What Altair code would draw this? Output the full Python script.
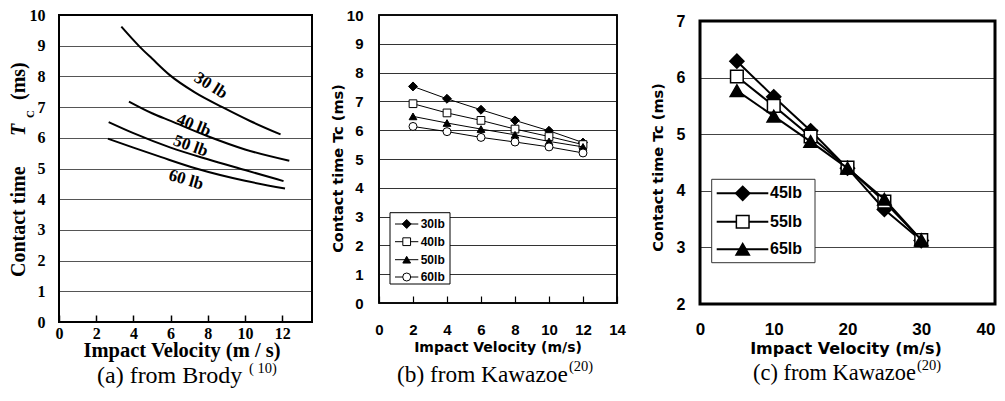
import altair as alt
import pandas as pd

# ---------------- data ----------------
# (a) Brody: contact time curves
A_30_V = [3.35, 4.33, 5.0, 5.94, 7.3, 8.81, 10.3, 11.91]
A_30_T = [9.62, 8.97, 8.58, 8.05, 7.48, 6.99, 6.54, 6.11]
A_40_V = [3.76, 5.0, 6.0, 8.0, 10.0, 12.38]
A_40_T = [7.18, 6.8, 6.55, 6.05, 5.62, 5.25]
A_50_V = [2.67, 4.0, 6.0, 8.0, 10.0, 12.07]
A_50_T = [6.51, 6.15, 5.68, 5.3, 4.95, 4.59]
A_60_V = [2.63, 4.0, 5.5, 7.37, 10.0, 12.15]
A_60_T = [5.97, 5.68, 5.37, 5.0, 4.6, 4.35]
A_LABELS = ["30 lb", "40 lb", "50 lb", "60 lb"]
A_LABEL_V = [8.16, 7.24, 7.08, 6.83]
A_LABEL_T = [7.70, 6.41, 5.73, 4.63]
A_XDOM = [0, 13.6]
A_YDOM = [0, 10]
A_XTICKS = [0, 2, 4, 6, 8, 10, 12]
A_YTICKS = list(range(0, 11))

# (b) Kawazoe, 30-60 lb
B_V = [2, 4, 6, 8, 10, 12]
B_SERIES = ["30lb", "40lb", "50lb", "60lb"]
B_30 = [7.52, 7.09, 6.71, 6.34, 5.98, 5.57]
B_40 = [6.92, 6.60, 6.34, 6.04, 5.78, 5.50]
B_50 = [6.48, 6.25, 6.04, 5.84, 5.61, 5.42]
B_60 = [6.13, 5.95, 5.75, 5.59, 5.42, 5.21]
B_XDOM = [0, 14]
B_YDOM = [0, 10]
B_XTICKS = [0, 2, 4, 6, 8, 10, 12, 14]
B_YTICKS = list(range(0, 11))

# (c) Kawazoe, 45-65 lb
C_V = [5, 10, 15, 20, 25, 30]
C_SERIES = ["45lb", "55lb", "65lb"]
C_45 = [6.29, 5.66, 5.06, 4.40, 3.67, 3.12]
C_55 = [6.02, 5.50, 4.96, 4.41, 3.81, 3.13]
C_65 = [5.77, 5.32, 4.87, 4.40, 3.85, 3.13]
C_XDOM = [0, 40]
C_YDOM = [2, 7]
C_XTICKS = [0, 10, 20, 30, 40]
C_YTICKS = [2, 3, 4, 5, 6, 7]

ONE = pd.DataFrame({"k": [0]})
SERIF = "Liberation Serif"
SANS = "Liberation Sans"
TSANS = "DejaVu Sans"


def txt(text, x, y, size, font, weight="normal", style="normal", angle=0,
        align="left", baseline="alphabetic"):
    kw = dict(text=text, fontSize=size, font=font, fontWeight=weight,
              fontStyle=style, align=align, baseline=baseline, color="black")
    if angle:
        kw["angle"] = angle
    return alt.Chart(ONE).mark_text(**kw).encode(x=alt.value(x), y=alt.value(y))


def axis(values, font, size, pad, grid, gridcolor="#444", align=None,
         inward_ticks=0.0):
    kw = dict(values=values, title=None, domain=False, grid=grid,
              labelFont=font, labelFontWeight="bold", labelFontSize=size,
              labelColor="black", labelPadding=pad, labelFlush=False,
              labelOverlap=False)
    if inward_ticks:
        # ticks drawn upward from the bottom edge into the plot
        kw.update(ticks=True, tickSize=7, tickWidth=inward_ticks,
                  tickColor="black", offset=-7)
    else:
        kw["ticks"] = False
    if grid:
        kw.update(gridColor=gridcolor, gridWidth=1, gridOpacity=1)
    if align:
        kw["labelAlign"] = align
    return alt.Axis(**kw)


def box(x0, x1, y0, y1, width, fill="transparent", stroke="black"):
    return alt.Chart(ONE).mark_rect(fill=fill, stroke=stroke, strokeWidth=width).encode(
        x=alt.value(x0), x2=alt.value(x1), y=alt.value(y0), y2=alt.value(y1))


# ---------------- panel (a) ----------------
A_W, A_H = 253, 307
ax_a = axis(A_XTICKS, SERIF, 16, 3, False, inward_ticks=1.5)
ay_a = axis(A_YTICKS, SERIF, 16, 14, True, "#555")
xa = lambda f: alt.X(f + ":Q", scale=alt.Scale(domain=A_XDOM, nice=False, zero=False), axis=ax_a)
ya = lambda f: alt.Y(f + ":Q", scale=alt.Scale(domain=A_YDOM, nice=False, zero=False), axis=ay_a)

rows = []
for name, vs, ts in [("30 lb", A_30_V, A_30_T), ("40 lb", A_40_V, A_40_T),
                     ("50 lb", A_50_V, A_50_T), ("60 lb", A_60_V, A_60_T)]:
    for v, t in zip(vs, ts):
        rows.append({"series": name, "v": v, "t": t})
df_a = pd.DataFrame(rows)

a_layers = [
    alt.Chart(df_a).mark_line(interpolate="monotone", color="black", strokeWidth=2)
    .encode(x=xa("v"), y=ya("t"), detail="series:N"),
]
for lab, v, t, ang in zip(A_LABELS, A_LABEL_V, A_LABEL_T, [32, 22, 20, 16]):
    a_layers.append(
        alt.Chart(pd.DataFrame({"v": [v], "t": [t], "lab": [lab]}))
        .mark_text(angle=ang, font=SERIF, fontWeight="bold", fontSize=17,
                   color="black", align="center", baseline="middle")
        .encode(x=xa("v"), y=ya("t"), text="lab:N"))
a_layers += [
    txt("Contact time", -34, 262, 20, SERIF, "bold", angle=270),
    txt("T", -34, 121, 20, SERIF, "bold", "italic", angle=270),
    txt("C", -25, 103, 11, SERIF, "bold", angle=270),
    txt("(ms)", -34, 85, 20, SERIF, "bold", angle=270),
    txt("Impact Velocity (m / s)", 123, 342, 20.5, SERIF, "bold", align="center"),
    txt("(a) from Brody", 38, 368, 24, SERIF),
    txt("( 10)", 190, 358, 14.5, SERIF),
    box(0, A_W, 0, A_H, 2),
]
panel_a = alt.layer(*a_layers).properties(
    width=A_W, height=A_H,
    view=alt.ViewBackground(stroke="black", strokeWidth=2, fill="transparent"))

# ---------------- panel (b) ----------------
B_W, B_H = 238, 288
ax_b = axis(B_XTICKS, SANS, 15, 19, False, inward_ticks=1.2)
ay_b = axis(B_YTICKS, SANS, 15, 16, True, "#333")
xb = lambda f: alt.X(f + ":Q", scale=alt.Scale(domain=B_XDOM, nice=False, zero=False), axis=ax_b)
yb = lambda f: alt.Y(f + ":Q", scale=alt.Scale(domain=B_YDOM, nice=False, zero=False), axis=ay_b)

B_STYLE = {"30lb": ("diamond", "black", 80), "40lb": ("square", "white", 60),
           "50lb": ("triangle-up", "black", 60), "60lb": ("circle", "white", 64)}
b_layers = []
for name, ts in zip(B_SERIES, [B_30, B_40, B_50, B_60]):
    df = pd.DataFrame({"v": B_V, "t": ts})
    shp, fil, sz = B_STYLE[name]
    b_layers.append(alt.Chart(df).mark_line(color="black", strokeWidth=1)
                    .encode(x=xb("v"), y=yb("t")))
    b_layers.append(alt.Chart(df).mark_point(shape=shp, fill=fil, stroke="black",
                                             strokeWidth=1, size=sz, opacity=1,
                                             fillOpacity=1, filled=True)
                    .encode(x=xb("v"), y=yb("t")))
# legend
b_layers.append(box(11, 71, 197.7, 269, 1, fill="white"))
for name, yy in zip(B_SERIES, [209, 226.7, 244.7, 262]):
    shp, fil, sz = B_STYLE[name]
    b_layers.append(alt.Chart(ONE).mark_rule(color="black", strokeWidth=1)
                    .encode(x=alt.value(16), x2=alt.value(39.3), y=alt.value(yy)))
    b_layers.append(alt.Chart(ONE).mark_point(shape=shp, fill=fil, stroke="black",
                                              strokeWidth=1, size=sz, opacity=1,
                                              fillOpacity=1, filled=True)
                    .encode(x=alt.value(27.7), y=alt.value(yy)))
    b_layers.append(txt(name, 41.7, yy, 12, SANS, "bold", baseline="middle"))
b_layers += [
    txt("Contact time Tc (ms)", -40, 153.5, 14.5, TSANS, "bold", angle=270,
        align="center", baseline="middle"),
    txt("Impact Velocity (m/s)", 119, 336.7, 14, TSANS, "bold", align="center"),
    txt("(b) from Kawazoe", 18, 367, 23.3, SERIF),
    txt("(20)", 190, 356, 14.5, SERIF),
    box(0, B_W, 0, B_H, 1.6),
]
panel_b = alt.layer(*b_layers).properties(
    width=B_W, height=B_H,
    view=alt.ViewBackground(stroke="black", strokeWidth=1.6, fill="transparent"))

# ---------------- panel (c) ----------------
C_L = 16                      # plot area starts 16 px into this panel
C_W, C_H = 311, 289
C_TOP = 6
ax_c = axis(C_XTICKS, SANS, 17, 17, False,
            align={"expr": "datum.value == 40 ? 'right' : 'center'"})
ay_c = axis(C_YTICKS, SANS, 16, -1, True, "#444")
xc = lambda f: alt.X(f + ":Q", scale=alt.Scale(domain=C_XDOM, range=[C_L, C_W], nice=False, zero=False), axis=ax_c)
yc = lambda f: alt.Y(f + ":Q", scale=alt.Scale(domain=C_YDOM, range=[C_H, C_TOP], nice=False, zero=False), axis=ay_c)

C_STYLE = {"45lb": ("diamond", "black", 200), "55lb": ("square", "white", 160),
           "65lb": ("triangle-up", "black", 180)}
c_layers = []
for name, ts in zip(C_SERIES, [C_45, C_55, C_65]):
    df = pd.DataFrame({"v": C_V, "t": ts})
    shp, fil, sz = C_STYLE[name]
    c_layers.append(alt.Chart(df).mark_line(color="black", strokeWidth=2)
                    .encode(x=xc("v"), y=yc("t")))
    c_layers.append(alt.Chart(df).mark_point(shape=shp, fill=fil, stroke="black",
                                             strokeWidth=1.5, size=sz, opacity=1,
                                             fillOpacity=1, filled=True)
                    .encode(x=xc("v"), y=yc("t")))
c_layers.append(box(C_L, C_W, C_TOP, C_H, 3))
c_layers.append(box(C_L + 11.7, C_L + 115, 164.3, 247.7, 1, fill="white", stroke="#333"))
for name, yy in zip(C_SERIES, [178.3, 206.7, 234.3]):
    shp, fil, sz = C_STYLE[name]
    c_layers.append(alt.Chart(ONE).mark_rule(color="black", strokeWidth=2)
                    .encode(x=alt.value(C_L + 16.7), x2=alt.value(C_L + 68.3), y=alt.value(yy)))
    c_layers.append(alt.Chart(ONE).mark_point(shape=shp, fill=fil, stroke="black",
                                              strokeWidth=1.5, size=sz, opacity=1,
                                              fillOpacity=1, filled=True)
                    .encode(x=alt.value(C_L + 42.7), y=alt.value(yy)))
    c_layers.append(txt(name, C_L + 70, yy, 16, SANS, "bold", baseline="middle"))
c_layers += [
    txt("Contact time Tc (ms)", C_L - 41, 152.5, 14.5, TSANS, "bold", angle=270,
        align="center", baseline="middle"),
    txt("Impact Velocity (m/s)", C_L + 146, 339, 16, TSANS, "bold", align="center"),
    txt("(c) from Kawazoe", C_L + 53, 365, 22.4, SERIF),
    txt("(20)", C_L + 217, 355, 14.5, SERIF),
]
panel_c = alt.layer(*c_layers).properties(width=C_W, height=C_H)

chart = (
    alt.hconcat(panel_a, panel_b, panel_c, spacing=67, bounds="flush")
    .properties(autosize=alt.AutoSizeParams(type="none"),
                padding={"left": 51, "right": 938, "top": 7, "bottom": 375},
                background="white")
    .configure_view(stroke=None)
)

chart.save("out.html", embed_options={"renderer": "svg", "actions": False})
